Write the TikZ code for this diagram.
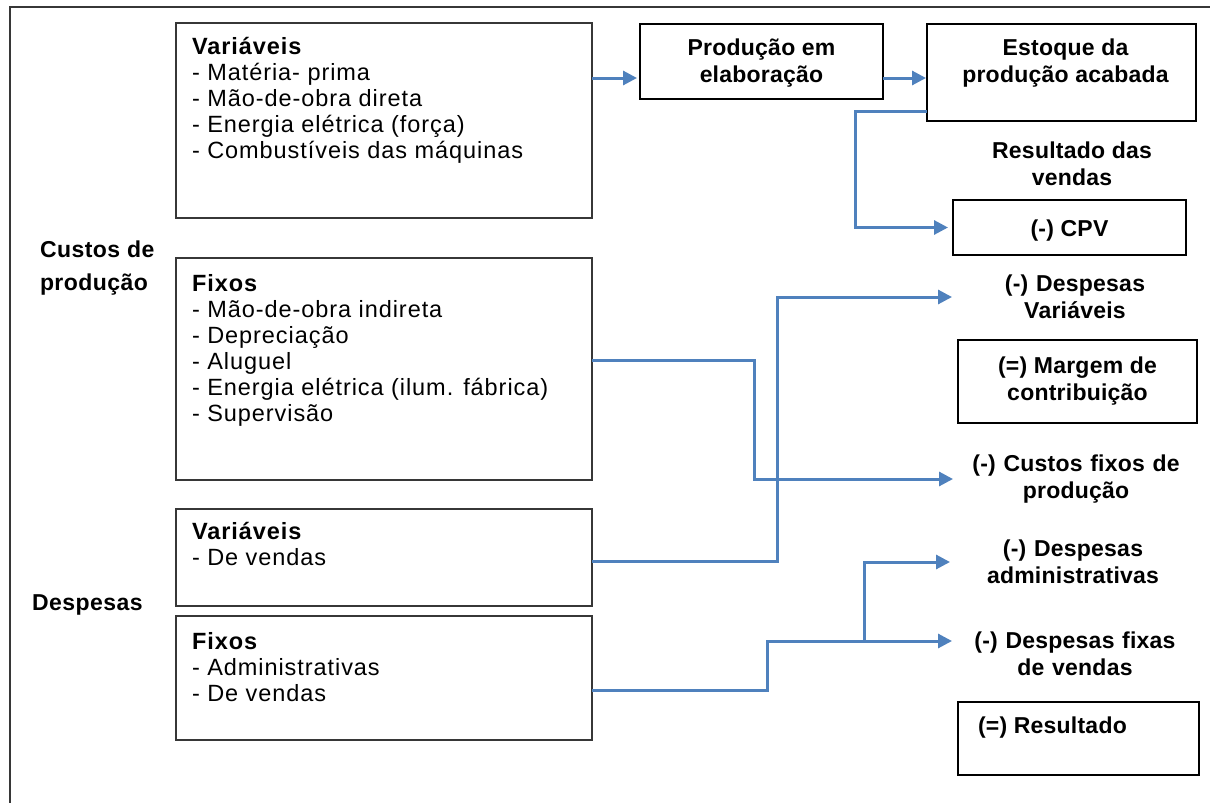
\documentclass[tikz,border=0pt]{standalone}
\usepackage{fontspec}
\setmainfont{Liberation Sans}
\newfontfamily\listfam[LetterSpace=4]{Liberation Sans}
\newfontfamily\boldfam[LetterSpace=2]{Liberation Sans}
\newfontfamily\sidefam[LetterSpace=1]{Liberation Sans}
\usetikzlibrary{arrows.meta,calc}
\definecolor{flowblue}{RGB}{79,129,189}
\definecolor{framegray}{RGB}{55,55,55}

\tikzset{
  every node/.style={inner sep=0pt, outer sep=0pt},
  leftbox/.style={draw=framegray, line width=1.5pt, minimum width=416pt},
  resbox/.style={draw=black, line width=2.8pt},
  listtext/.style={font=\listfam\fontsize{23.5}{26}\selectfont, align=left, anchor=north west},
  sidelabel/.style={font=\boldfam\bfseries\fontsize{23}{33}\selectfont, align=left},
  rtext/.style={font=\sidefam\bfseries\fontsize{23}{27}\selectfont, align=center},
  sidetext/.style={rtext, text width=246pt},
  flowline/.style={draw=flowblue, line width=3pt},
  flow/.style={flowline, -{Triangle[length=14pt,width=14pt]}},
}

\begin{document}
\begin{tikzpicture}[x=1pt, y=-1pt]
  \fill[white] (0,0) rectangle (1213,803);
  \useasboundingbox (0,0) rectangle (1213,803);

  % outer frame
  \draw[framegray, line width=2pt] (10,810) -- (10,7) -- (1210,7);

  % cost and expense boxes
  \node[leftbox, minimum height=195pt] (v1) at (384,120.5) {};
  \node[leftbox, minimum height=222pt] (f1) at (384,369) {};
  \node[leftbox, minimum height=97pt]  (v2) at (384,557.5) {};
  \node[leftbox, minimum height=124pt] (f2) at (384,678) {};

  \node[listtext] (v1t) at (192,37) {\textbf{Variáveis}\\- Matéria- prima\\- Mão-de-obra direta\\- Energia elétrica (força)\\- Combustíveis das máquinas};
  \node[listtext] (f1t) at (192,274) {\textbf{Fixos}\\- Mão-de-obra indireta\\- Depreciação\\- Aluguel\\- Energia elétrica (ilum. fábrica)\\- Supervisão};
  \node[listtext] (v2t) at (192,522) {\textbf{Variáveis}\\- De vendas};
  \node[listtext] (f2t) at (192,632) {\textbf{Fixos}\\- Administrativas\\- De vendas};

  % group labels
  \node[sidelabel, anchor=north west] (cp) at (40,241) {Custos de\\produção};
  \node[sidelabel, anchor=west] (desp) at (32,605) {Despesas};

  % production flow
  \node[resbox, minimum width=243pt, minimum height=75pt] (prod) at (761.5,61.5) {};
  \node[rtext] (prodt) at ($(prod.center)+(0,2)$) {Produção em\\elaboração};
  \node[resbox, minimum width=269pt, minimum height=97pt] (est) at (1061.5,72.5) {};
  \node[rtext] (estt) at ($(est.center)+(4,-9)$) {Estoque da\\produção acabada};

  % income statement
  \node[rtext] (rv) at (1072,163.5) {Resultado das\\vendas};
  \node[resbox, minimum width=233pt, minimum height=55pt] (cpv) at (1069.5,227.5) {};
  \node[rtext] (cpvt) at ($(cpv.center)+(0,3)$) {(-) CPV};
  \node[sidetext] (dv) at (1075,297) {(-) Despesas\\Variáveis};
  \node[resbox, minimum width=239pt, minimum height=83pt, rtext] (mc) at (1077.5,381.5) {(=) Margem de\\contribuição};
  \node[sidetext] (cfp) at (1076,479) {(-) Custos fixos de\\produção};
  \node[sidetext] (dadm) at (1073,562) {(-) Despesas\\administrativas};
  \node[sidetext] (dfv) at (1075,654) {(-) Despesas fixas\\de vendas};
  \node[resbox, minimum width=241pt, minimum height=73pt] (res) at (1078.5,738.5) {};
  \node[rtext, anchor=west] (rest) at ($(res.west)+(20,-11)$) {(=) Resultado};

  % connectors
  \draw[flow, shorten >=3pt] ([yshift=42.5pt]v1.east) -- ([yshift=-16.5pt]prod.west);
  \draw[flow, shorten >=1pt] ([yshift=-16.5pt]prod.east) -- ([yshift=-5.5pt]est.west);
  \draw[flow, shorten >=5pt] ([yshift=-38.5pt]est.west) -- ++(-72,0) |- (cpv.west);
  \draw[flow] ([yshift=-3.5pt]v2.east) -- ++(185,0) |- (dv.west);
  \draw[flow] ([yshift=9pt]f1.east) -- ++(162,0) |- (cfp.west);
  \draw[flow] ([yshift=-12pt]f2.east) -- ++(175,0) |- ([yshift=13pt]dfv.west);
  \path ([yshift=13pt]dfv.west) ++(-88,0) coordinate (split);
  \draw[flow] (split) |- (dadm.west);
\end{tikzpicture}
\end{document}
